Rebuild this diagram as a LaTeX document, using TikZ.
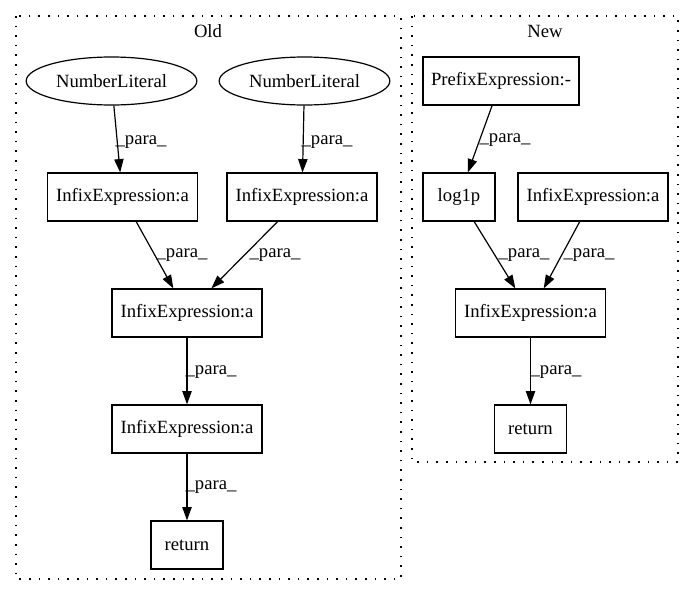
\documentclass[tikz,border=0pt]{standalone}
\usepackage{fontspec}
\setmainfont{Liberation Serif}
\usetikzlibrary{arrows.meta,shapes.geometric}
\begin{document}
\begin{tikzpicture}[x=0.75pt,y=-0.75pt,
  every node/.style={font=\fontsize{14}{16}\selectfont},
  box/.style={draw,line width=0.9pt,rectangle,minimum height=36pt,inner sep=0pt},
  oval/.style={draw,line width=0.9pt,ellipse,minimum width=128pt,minimum height=36pt,inner sep=0pt},
  lbl/.style={inner sep=0pt},
  edge/.style={line width=0.9pt,-{Triangle[length=10pt,width=7pt]}},
  cluster/.style={draw,line width=0.9pt,dash pattern=on 1.2pt off 6pt}]
\useasboundingbox (0,0) rectangle (695,596);
% clusters
\draw[cluster] (16,16) rectangle (401,579);
\draw[cluster] (412,16) rectangle (678,462);
\node[lbl] (oldlbl) at (208,31) {Old};
\node[lbl] (newlbl) at (545,31) {New};
% Old nodes
\node[oval] (e1) at (111.5,81) {NumberLiteral};
\node[oval] (e2) at (304.5,81) {NumberLiteral};
\node[box,minimum width=112.5pt] (a1) at (122.5,197) {InfixExpression:a};
\node[box,minimum width=112.5pt] (a2) at (302,197) {InfixExpression:a};
\node[box,minimum width=112.5pt] (a3) at (187,313) {InfixExpression:a};
\node[box,minimum width=112.5pt] (a4) at (187,429) {InfixExpression:a};
\node[box,minimum width=54pt] (r1) at (187,545) {return};
% New nodes
\node[box,minimum width=117pt] (p) at (501,81) {PrefixExpression:-};
\node[box,minimum width=54pt] (lg) at (459,197) {log1p};
\node[box,minimum width=112.5pt] (n2) at (593,197) {InfixExpression:a};
\node[box,minimum width=112.5pt] (n3) at (530.5,313) {InfixExpression:a};
\node[box,minimum width=54pt] (r2) at (530.5,429) {return};
% edges
\draw[edge] (e1) -- (a1);
\draw[edge] (e2) -- (a2);
\draw[edge] (a1) -- (a3);
\draw[edge] (a2) -- (a3);
\draw[edge] (a3) -- (a4);
\draw[edge] (a4) -- (r1);
\draw[edge] (p) -- (lg);
\draw[edge] (lg) -- (n3);
\draw[edge] (n2) -- (n3);
\draw[edge] (n3) -- (r2);
% edge labels
\node[lbl] (l1) at (141,142) {\_para\_};
\node[lbl] (l2) at (327,142) {\_para\_};
\node[lbl] (l3) at (182,255) {\_para\_};
\node[lbl] (l4) at (275,255) {\_para\_};
\node[lbl] (l5) at (211,372) {\_para\_};
\node[lbl] (l6) at (211,487) {\_para\_};
\node[lbl] (l7) at (505,140) {\_para\_};
\node[lbl] (l8) at (524,255) {\_para\_};
\node[lbl] (l9) at (589,255) {\_para\_};
\node[lbl] (l10) at (556,372) {\_para\_};
\end{tikzpicture}
\end{document}
